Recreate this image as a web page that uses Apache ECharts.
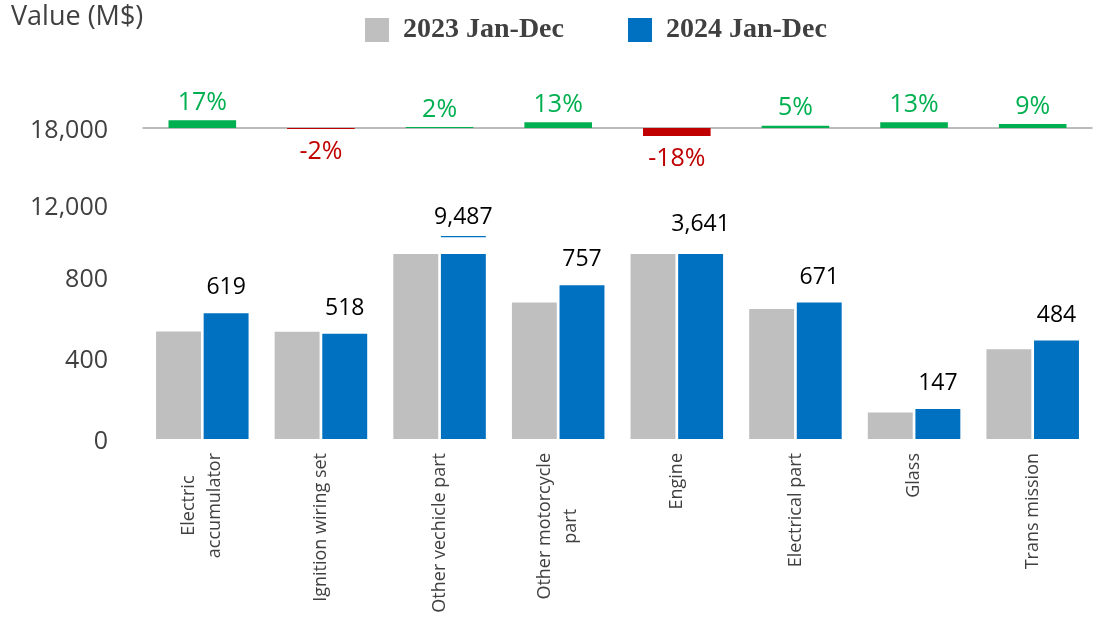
<!DOCTYPE html>
<html>
<head>
<meta charset="utf-8">
<script src="https://cdn.jsdelivr.net/npm/echarts@6/dist/echarts.min.js"></script>
<style>
  html, body { margin: 0; padding: 0; background: #fff; }
  #chart { width: 1102px; height: 621px; }
</style>
</head>
<body>
<div id="chart"></div>
<script>
// 数据
const categories = [
  "Electric\naccumulator",
  "Ignition wiring set",
  "Other vechicle part",
  "Other motorcycle\npart",
  "Engine",
  "Electrical part",
  "Glass",
  "Trans mission",
];
const value2023 = [529, 528, 9301, 671, 4440, 640, 130, 442];
const value2024 = [619, 518, 9487, 757, 3641, 671, 147, 484];
const growth = [17, -2, 2, 13, -18, 5, 13, 9];
// 断轴：超过 cap 的柱子截断显示
const cap = 910;
const breakCats = ["Other vechicle part"];
const tickValues = [0, 400, 800, 1150, 1530];
const tickLabels = ["0", "400", "800", "12,000", "18,000"];

const GREEN = "#00B050";
const RED = "#C00000";
const GRAY = "#BFBFBF";
const BLUE = "#0070C0";
const TXT = "#404040";
const FONT = "'Open Sans', sans-serif";

let myChart = echarts.init(document.getElementById("chart"));

const fmt = (v) => v.toLocaleString("en-US");

const blueData = value2024.map((v, i) => {
  let dist = 14;
  if (v > cap) dist = breakCats.includes(categories[i]) ? 25 : 18;
  return { value: Math.min(v, cap), label: { distance: dist } };
});
const grayData = value2023.map((v) => Math.min(v, cap));
const gapData = categories.map((c) => (breakCats.includes(c) ? 82 : null));
const markData = categories.map((c) => (breakCats.includes(c) ? 7 : null));

const growthData = growth.map((g) => ({
  value: g,
  itemStyle: { color: g < 0 ? RED : GREEN },
  label: {
    position: g < 0 ? "bottom" : "top",
    distance: g < 0 ? 10 : 5,
    color: g < 0 ? RED : GREEN,
  },
}));

myChart.setOption({
  animation: false,
  title: {
    text: "Value (M$)",
    left: 11,
    top: 4,
    padding: 0,
    textStyle: { fontFamily: FONT, fontSize: 27, fontWeight: "normal", color: TXT },
  },
  legend: {
    data: ["2023 Jan-Dec", "2024 Jan-Dec"],
    left: 365,
    top: 16,
    padding: 0,
    icon: "rect",
    itemWidth: 24,
    itemHeight: 24,
    itemGap: 64,
    textStyle: {
      fontFamily: "'Liberation Serif', 'Times New Roman', serif",
      fontWeight: "bold",
      fontSize: 28,
      color: TXT,
      padding: [0, 0, 0, 9],
    },
  },
  grid: [
    { left: 143, right: 10, top: 128, bottom: 182 },
    { left: 143, right: 10, top: 110, height: 36 },
  ],
  xAxis: [
    {
      type: "category",
      gridIndex: 0,
      data: categories,
      axisLine: { show: false },
      axisTick: { show: false },
      axisLabel: {
        rotate: 90,
        margin: 14,
        interval: 0,
        formatter: (v) => v.split("\n").map((s) => "{c|" + s + "}").join("\n"),
        rich: {
          c: { align: "center", fontFamily: FONT, fontSize: 18, color: TXT, lineHeight: 26 },
        },
      },
    },
    {
      type: "category",
      gridIndex: 1,
      data: categories,
      axisLine: { onZero: true, lineStyle: { color: "#A6A6A6", width: 1.5 } },
      axisTick: { show: false },
      axisLabel: { show: false },
    },
  ],
  yAxis: [
    {
      type: "value",
      gridIndex: 0,
      min: 0,
      max: 1530,
      splitLine: { show: false },
      axisLine: { show: false },
      axisTick: { show: false },
      axisLabel: {
        margin: 35,
        customValues: tickValues,
        formatter: (v) => "{t|" + tickLabels[tickValues.indexOf(v)] + "}",
        rich: {
          t: { fontFamily: FONT, fontSize: 25, color: TXT, padding: [6, 0, 0, 0] },
        },
      },
    },
    {
      type: "value",
      gridIndex: 1,
      min: -40,
      max: 40,
      show: false,
      splitLine: { show: false },
    },
  ],
  series: [
    {
      name: "2023 Jan-Dec",
      type: "bar",
      xAxisIndex: 0,
      yAxisIndex: 0,
      data: grayData,
      itemStyle: { color: GRAY },
      barGap: "6%",
      barCategoryGap: "22%",
    },
    {
      name: "2024 Jan-Dec",
      type: "bar",
      stack: "b24",
      xAxisIndex: 0,
      yAxisIndex: 0,
      data: blueData,
      itemStyle: { color: BLUE },
      label: {
        show: true,
        position: "top",
        fontFamily: FONT,
        fontSize: 23,
        color: "#000",
        formatter: (p) => fmt(value2024[p.dataIndex]),
      },
    },
    {
      name: "gap",
      type: "bar",
      stack: "b24",
      xAxisIndex: 0,
      yAxisIndex: 0,
      data: gapData,
      itemStyle: { color: "rgba(0,0,0,0)" },
      silent: true,
    },
    {
      name: "break",
      type: "bar",
      stack: "b24",
      xAxisIndex: 0,
      yAxisIndex: 0,
      data: markData,
      itemStyle: { color: BLUE },
      silent: true,
    },
    {
      name: "增长率",
      type: "bar",
      xAxisIndex: 1,
      yAxisIndex: 1,
      data: growthData,
      barWidth: "57%",
      label: {
        show: true,
        fontFamily: FONT,
        fontSize: 25,
        formatter: (p) => p.value + "%",
      },
    },
  ],
});
</script>
</body>
</html>
